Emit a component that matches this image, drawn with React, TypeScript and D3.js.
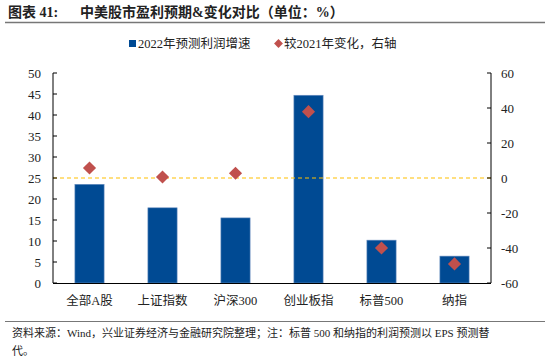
import * as d3 from "d3";

const categories = ["全部A股", "上证指数", "沪深300", "创业板指", "标普500", "纳指"];
const growth2022 = [23.5, 17.9, 15.5, 44.7, 10.2, 6.4];
const change2021 = [5.7, 0.6, 2.7, 37.9, -40.0, -49.1];
const leftTicks = [0, 5, 10, 15, 20, 25, 30, 35, 40, 45, 50];
const rightTicks = [-60, -40, -20, 0, 20, 40, 60];

const W = 550;
const H = 362;
const m = { left: 53, right: 491, top: 73, bottom: 283 };
const font = "'Liberation Serif', 'Noto Sans CJK SC', serif";

export default function App() {
  const x = d3.scaleBand().domain(categories).range([m.left, m.right]).paddingInner(0.6).paddingOuter(0.3);
  const yL = d3.scaleLinear().domain([0, 50]).range([m.bottom, m.top]);
  const yR = d3.scaleLinear().domain([-60, 60]).range([m.bottom, m.top]);
  const diamond = d3.symbol().type(d3.symbolDiamond2).size(110)();

  return (
    <svg
      width={W}
      height={H}
      style={{ position: "absolute", left: 0, top: 0, background: "#fff" }}
      fontFamily={font}
    >
      {/* header */}
      <text x={8} y={17} fontSize={14} fontWeight="bold" fill="#222">
        图表 41:
      </text>
      <text x={80} y={17} fontSize={14} fontWeight="bold" fill="#222">
        中美股市盈利预期&amp;变化对比（单位：%）
      </text>
      <line x1={5} x2={545} y1={22.5} y2={22.5} stroke="#777" strokeWidth={1.5} />

      {/* legend */}
      <rect x={129} y={40} width={7} height={7} fill="#004a93" />
      <text x={138} y={48} fontSize={12.5} fill="#222">
        2022年预测利润增速
      </text>
      <path d={d3.symbol().type(d3.symbolDiamond2).size(50)()!} transform="translate(278.5,43.5)" fill="#c0504d" />
      <text x={284} y={48} fontSize={12.5} fill="#222">
        较2021年变化，右轴
      </text>

      {/* bars */}
      {categories.map((c, i) => (
        <rect
          key={c}
          x={x(c)}
          y={yL(growth2022[i])}
          width={x.bandwidth()}
          height={m.bottom - yL(growth2022[i])}
          fill="#004a93"
          stroke="#6b8fc0"
          strokeWidth={0.6}
        />
      ))}

      {/* zero line for right axis */}
      <line
        x1={m.left}
        x2={m.right}
        y1={yR(0)}
        y2={yR(0)}
        stroke="#ffc000"
        strokeWidth={1.2}
        strokeDasharray="4,3"
      />

      {/* diamonds */}
      {categories.map((c, i) => (
        <path
          key={c}
          d={diamond!}
          transform={`translate(${x(c)! + x.bandwidth() / 2},${yR(change2021[i])})`}
          fill="#c0504d"
        />
      ))}

      {/* left axis */}
      <line x1={m.left} x2={m.left} y1={m.top} y2={m.bottom} stroke="#000" strokeWidth={1} />
      {leftTicks.map((t) => (
        <g key={t}>
          <line x1={m.left} x2={m.left + 4} y1={yL(t)} y2={yL(t)} stroke="#000" />
          <text x={41} y={yL(t) + 4.5} textAnchor="end" fontSize={13} fill="#222">
            {t}
          </text>
        </g>
      ))}

      {/* right axis */}
      <line x1={m.right} x2={m.right} y1={m.top} y2={m.bottom} stroke="#000" strokeWidth={1} />
      {rightTicks.map((t) => (
        <g key={t}>
          <line x1={m.right - 4} x2={m.right} y1={yR(t)} y2={yR(t)} stroke="#000" />
          <text x={501} y={yR(t) + 4.5} textAnchor="start" fontSize={13} fill="#222">
            {t}
          </text>
        </g>
      ))}

      {/* x axis */}
      <line x1={m.left} x2={m.right} y1={m.bottom + 0.5} y2={m.bottom + 0.5} stroke="#000" strokeWidth={1.2} />
      {categories.map((c) => (
        <text key={c} x={x(c)! + x.bandwidth() / 2} y={305} textAnchor="middle" fontSize={12.5} fill="#222">
          {c}
        </text>
      ))}

      {/* footer */}
      <line x1={5} x2={545} y1={321.5} y2={321.5} stroke="#777" strokeWidth={1} />
      <text x={12} y={337} fontSize={11} fill="#222">
        资料来源：Wind，兴业证券经济与金融研究院整理；注：标普 500 和纳指的利润预测以 EPS 预测替
      </text>
      <text x={12} y={355} fontSize={11} fill="#222">
        代。
      </text>
    </svg>
  );
}
